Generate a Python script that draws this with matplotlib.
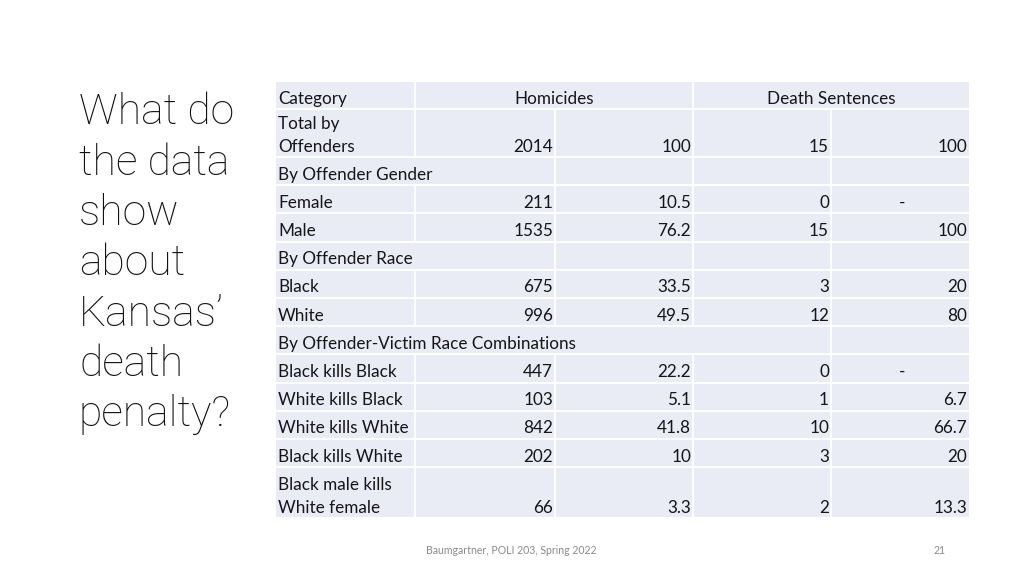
import matplotlib
matplotlib.use("Agg")
import matplotlib.pyplot as plt
from matplotlib.patches import Rectangle

# ---- data ----
title_lines = ["What do", "the data", "show", "about", "Kansas\u2019", "death", "penalty?"]
header = ["Category", "Homicides", "Death Sentences"]
categories = ["Total by\nOffenders", "By Offender Gender", "Female", "Male",
              "By Offender Race", "Black", "White",
              "By Offender-Victim Race Combinations",
              "Black kills Black", "White kills Black", "White kills White",
              "Black kills White", "Black male kills\nWhite female"]
homicides = [2014, None, 211, 1535, None, 675, 996, None, 447, 103, 842, 202, 66]
homicide_pct = [100, None, 10.5, 76.2, None, 33.5, 49.5, None, 22.2, 5.1, 41.8, 10, 3.3]
death_sentences = [15, None, 0, 15, None, 3, 12, None, 0, 1, 10, 3, 2]
death_pct = [100, None, "-", 100, None, 20, 80, None, "-", 6.7, 66.7, 20, 13.3]
footer = "Baumgartner, POLI 203, Spring 2022"
page = "21"

# ---- layout ----
FONT = "Lato"
fig = plt.figure(figsize=(10.24, 5.76), dpi=100)
ax = fig.add_axes([0, 0, 1, 1])
ax.set_xlim(0, 1024)
ax.set_ylim(576, 0)
ax.axis("off")

col_edges = [276, 415, 555, 693, 831, 969]
row_heights = [27, 48] + [28.2] * 11 + [50]
row_edges = [82]
for h in row_heights:
    row_edges.append(row_edges[-1] + h)

fill = "#E9EBF5"
ax.add_patch(Rectangle((col_edges[0], row_edges[0]), col_edges[-1] - col_edges[0],
                       row_edges[-1] - row_edges[0], facecolor=fill, edgecolor="none", zorder=1))

for y in row_edges[1:-1]:
    ax.plot([col_edges[0], col_edges[-1]], [y, y], color="white", lw=1.4, zorder=2)

hidden = {0: {2, 4}, 2: {1}, 5: {1}, 8: {1, 2, 3}}
for r in range(len(row_heights)):
    for ci in range(1, 5):
        if ci in hidden.get(r, set()):
            continue
        ax.plot([col_edges[ci], col_edges[ci]], [row_edges[r], row_edges[r + 1]],
                color="white", lw=1.4, zorder=2)

fs = 12.3
tc = "#161616"
line_gap = 23
dy = 3.5

def cell_text(x, r, s, ha):
    top, bot = row_edges[r], row_edges[r + 1]
    lines = s.split("\n")
    double = (bot - top) > 40
    if len(lines) == 1 and not double:
        ax.text(x, (top + bot) / 2 + dy, s, ha=ha, va="center", fontsize=fs,
                family=FONT, color=tc, zorder=3)
    else:
        ylast = bot - 10 + (1 if r == len(row_heights) - 1 else 0)
        for i, ln in enumerate(lines):
            ax.text(x, ylast - (len(lines) - 1 - i) * line_gap, ln, ha=ha, va="center",
                    fontsize=fs, family=FONT, color=tc, zorder=3)

cell_text(col_edges[0] + 2, 0, header[0], "left")
cell_text((col_edges[1] + col_edges[3]) / 2, 0, header[1], "center")
cell_text((col_edges[3] + col_edges[5]) / 2, 0, header[2], "center")

def fmt(v):
    if v is None:
        return None
    if isinstance(v, str):
        return v
    return f"{v:g}"

for i, cat in enumerate(categories):
    r = i + 1
    cell_text(col_edges[0] + 2, r, cat, "left")
    vals = [homicides[i], homicide_pct[i], death_sentences[i], death_pct[i]]
    for ci, v in enumerate(vals):
        s = fmt(v)
        if s is None:
            continue
        if s == "-":
            cell_text(col_edges[ci + 1] + 71, r, s, "center")
        else:
            cell_text(col_edges[ci + 2] - 2, r, s, "right")

for k, ln in enumerate(title_lines):
    ax.text(79, 113 + k * 50.3, ln, ha="left", va="center", fontsize=30.8,
            family="Roboto", fontweight="light", color="#111111")

ax.text(511, 550, footer, ha="center", va="center", fontsize=7.6, family=FONT, color="#8a8a8a")
ax.text(946, 550, page, ha="right", va="center", fontsize=7.6, family=FONT, color="#8a8a8a")

fig.savefig("out.png", dpi=100, facecolor="white")
